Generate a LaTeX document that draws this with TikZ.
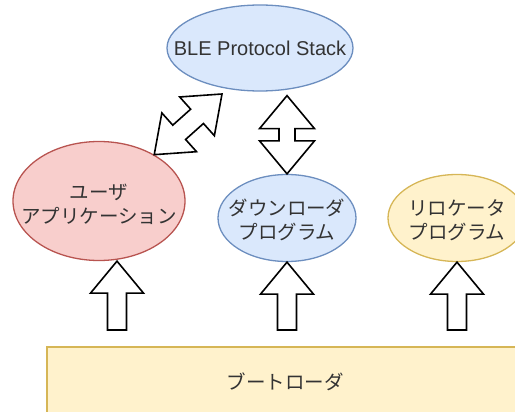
\documentclass[tikz,border=0pt]{standalone}
\usepackage{fontspec}
\setmainfont{Liberation Sans}
\newfontfamily\jpfont{Noto Sans CJK JP}
\usetikzlibrary{shapes.geometric,calc}

\definecolor{blueFill}{HTML}{DAE8FC}
\definecolor{blueLine}{HTML}{6C8EBF}
\definecolor{redFill}{HTML}{F8CECC}
\definecolor{redLine}{HTML}{B85450}
\definecolor{yellowFill}{HTML}{FFF2CC}
\definecolor{yellowLine}{HTML}{D6B656}
\definecolor{txtGray}{HTML}{333333}

\tikzset{
  lbl/.style={text=txtGray, align=center, inner sep=0pt,
    font=\fontsize{20}{24}\selectfont},
  jp/.style={lbl, font=\jpfont\fontsize{19.5}{24}\selectfont},
  bubble/.style={ellipse, draw, line width=1.3pt, inner sep=0pt},
  bluebub/.style={bubble, fill=blueFill, draw=blueLine},
  redbub/.style={bubble, fill=redFill, draw=redLine},
  yellowbub/.style={bubble, fill=yellowFill, draw=yellowLine},
  loaderbox/.style={rectangle, draw=yellowLine, fill=yellowFill, line width=1.3pt,
    minimum width=476pt, minimum height=70pt},
  blockline/.style={draw=black, fill=white, line width=1.6pt, line join=miter}
}

% single block arrow: tail, tip, head length, head half width, shaft half width
\newcommand\upblockarrow[5]{%
  \coordinate (ba-h) at ($(#2)!#3!(#1)$);
  \draw[blockline] ($(#1)!#5!-90:(#2)$) -- ($(ba-h)!#5!-90:(#2)$)
    -- ($(ba-h)!#4!-90:(#2)$) -- (#2) -- ($(ba-h)!#4!90:(#2)$)
    -- ($(ba-h)!#5!90:(#2)$) -- ($(#1)!#5!90:(#2)$) -- cycle;
}
% double block arrow: end A, end B, head length, head half width, shaft half width
\newcommand\twowayblockarrow[5]{%
  \coordinate (bb-h1) at ($(#2)!#3!(#1)$);
  \coordinate (bb-h2) at ($(#1)!#3!(#2)$);
  \draw[blockline] (#2) -- ($(bb-h1)!#4!90:(#2)$) -- ($(bb-h1)!#5!90:(#2)$)
    -- ($(bb-h2)!#5!90:(#2)$) -- ($(bb-h2)!#4!90:(#2)$) -- (#1)
    -- ($(bb-h2)!#4!-90:(#2)$) -- ($(bb-h2)!#5!-90:(#2)$)
    -- ($(bb-h1)!#5!-90:(#2)$) -- ($(bb-h1)!#4!-90:(#2)$) -- cycle;
}

\begin{document}
\begin{tikzpicture}[x=1pt, y=-1pt]
\useasboundingbox (0,0) rectangle (515,412);
\clip (0,0) rectangle (515,412);

% components
\node[bluebub, minimum width=186pt, minimum height=86pt,
  label={[lbl]center:BLE Protocol Stack}] (ble) at (260,48) {};
\node[redbub, minimum width=172pt, minimum height=119pt,
  label={[jp, yshift=-3pt]center:ユーザ\\アプリケーション}] (user) at (99,201) {};
\node[bluebub, minimum width=138pt, minimum height=87pt,
  label={[jp, yshift=-2pt]center:ダウンローダ\\プログラム}] (dl) at (287,218) {};
\node[yellowbub, minimum width=138pt, minimum height=87pt,
  label={[jp, yshift=-2pt]center:リロケータ\\プログラム}] (rl) at (457,218) {};
\node[loaderbox, label={[jp]center:ブートローダ}] (boot) at (285,382) {};

% arrows from the boot loader up to each program
\coordinate (ut) at (117,330);
\coordinate (utip) at (ut |- user.south);
\coordinate (dt) at (dl.south |- ut);
\coordinate (rt) at (rl.south |- ut);
\upblockarrow{ut}{utip}{32pt}{26.5pt}{9.5pt}
\upblockarrow{dt}{dl.south}{32pt}{26.5pt}{9.5pt}
\upblockarrow{rt}{rl.south}{32pt}{26.5pt}{9.5pt}

% two-way links to the protocol stack
\coordinate (dtop) at ($(dl.north |- ble.south)+(0,4)$);
\twowayblockarrow{dl.north}{dtop}{33pt}{27.5pt}{8pt}
\coordinate (utop) at (222,94);
\twowayblockarrow{user.40}{utop}{33.5pt}{26pt}{9.6pt}
\end{tikzpicture}
\end{document}
